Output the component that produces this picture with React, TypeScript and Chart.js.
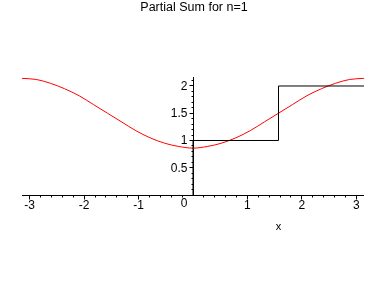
import React, { useEffect, useRef } from "react";
import { Chart, registerables } from "chart.js";
Chart.register(...registerables);

const titleText = "Partial Sum for n=1";
const xAxisLabel = "x";

// Partial sum curve (red)
const sumX = [
  -3.14, -2.88, -2.62, -2.36, -2.09, -1.83, -1.57, -1.31, -1.05, -0.79, -0.52, -0.26,
  0, 0.26, 0.52, 0.79, 1.05, 1.31, 1.57, 1.83, 2.09, 2.36, 2.62, 2.88, 3.14,
];
const sumY = [
  2.14, 2.12, 2.05, 1.95, 1.82, 1.66, 1.5, 1.34, 1.18, 1.05, 0.95, 0.89,
  0.86, 0.89, 0.95, 1.05, 1.18, 1.34, 1.5, 1.66, 1.82, 1.95, 2.05, 2.12, 2.14,
];

// Step function (black)
const stepX = [0, 0, 1.5708, 1.5708, 3.1416];
const stepY = [0, 1, 1, 2, 2];

const xTickLabels = [-3, -2, -1, 1, 2, 3];
const yTickLabels = [0.5, 1, 1.5, 2];
const xMin = -3.1416;
const xMax = 3.1416;
const yMin = 0;
const yMax = 2.165;

const axesPlugin = {
  id: "mapleAxes",
  beforeDatasetsDraw(chart: any) {
    const ctx = chart.ctx;
    const xs = chart.scales.x;
    const ys = chart.scales.y;
    const crisp = (v: number) => Math.floor(v) + 0.5;
    const x0 = crisp(xs.getPixelForValue(0));
    const y0 = crisp(ys.getPixelForValue(0));
    ctx.save();
    ctx.strokeStyle = "#000";
    ctx.lineWidth = 1;
    ctx.beginPath();
    // x axis
    ctx.moveTo(Math.floor(xs.getPixelForValue(xMin)), y0);
    ctx.lineTo(Math.ceil(xs.getPixelForValue(xMax)), y0);
    // y axis
    ctx.moveTo(x0, Math.floor(ys.getPixelForValue(yMax)));
    ctx.lineTo(x0, Math.ceil(ys.getPixelForValue(0)) + 1);
    // x ticks every 0.2
    for (let i = -15; i <= 15; i++) {
      const v = i / 5;
      if (i === 0) continue;
      const px = crisp(xs.getPixelForValue(v));
      const len = i % 5 === 0 ? 4 : 2;
      ctx.moveTo(px, y0);
      ctx.lineTo(px, y0 + len);
    }
    // y ticks every 0.1
    for (let i = 1; i <= 21; i++) {
      const v = i / 10;
      const py = crisp(ys.getPixelForValue(v));
      const len = i % 5 === 0 ? 4 : 2;
      ctx.moveTo(x0 - len, py);
      ctx.lineTo(x0, py);
    }
    ctx.stroke();

    ctx.fillStyle = "#000";
    ctx.font = "12px 'Liberation Sans', Arial, sans-serif";
    ctx.textAlign = "center";
    ctx.textBaseline = "alphabetic";
    xTickLabels.forEach((v) => {
      ctx.fillText(String(v), xs.getPixelForValue(v), y0 + 13);
    });
    ctx.textAlign = "right";
    ctx.textBaseline = "middle";
    yTickLabels.forEach((v) => {
      ctx.fillText(String(v), x0 - 6, ys.getPixelForValue(v) + 0.5);
    });
    ctx.textBaseline = "alphabetic";
    ctx.fillText("0", x0 - 6, y0 + 11);

    ctx.textAlign = "center";
    ctx.font = "11px 'Liberation Sans', Arial, sans-serif";
    ctx.fillText(xAxisLabel, (xs.getPixelForValue(0) + xs.getPixelForValue(xMax)) / 2, y0 + 34);

    ctx.font = "12.5px 'Liberation Sans', Arial, sans-serif";
    ctx.fillText(titleText, chart.width / 2, 11);
    ctx.restore();
  },
};

export default function App() {
  const ref = useRef<HTMLCanvasElement | null>(null);
  useEffect(() => {
    document.body.style.margin = "0";
    const canvas = ref.current!;
    const chart = new Chart(canvas, {
      type: "scatter",
      data: {
        datasets: [
          {
            data: stepX.map((x, i) => ({ x, y: stepY[i] })),
            showLine: true,
            borderColor: "#000000",
            borderWidth: 1,
            pointRadius: 0,
            fill: false,
          },
          {
            data: sumX.map((x, i) => ({ x, y: sumY[i] })),
            showLine: true,
            borderColor: "#ff0000",
            borderWidth: 1,
            pointRadius: 0,
            cubicInterpolationMode: "monotone",
            fill: false,
          },
        ],
      },
      options: {
        responsive: false,
        animation: false,
        devicePixelRatio: 1,
        layout: { padding: { left: 22, right: 24, top: 77, bottom: 93 } },
        scales: {
          x: { type: "linear", min: xMin, max: xMax, display: false },
          y: { type: "linear", min: yMin, max: yMax, display: false },
        },
        plugins: {
          legend: { display: false },
          title: { display: false },
          tooltip: { enabled: false },
        },
      } as any,
      plugins: [axesPlugin],
    });
    return () => chart.destroy();
  }, []);
  return <canvas ref={ref} width={388} height={288} style={{ display: "block" }} />;
}
